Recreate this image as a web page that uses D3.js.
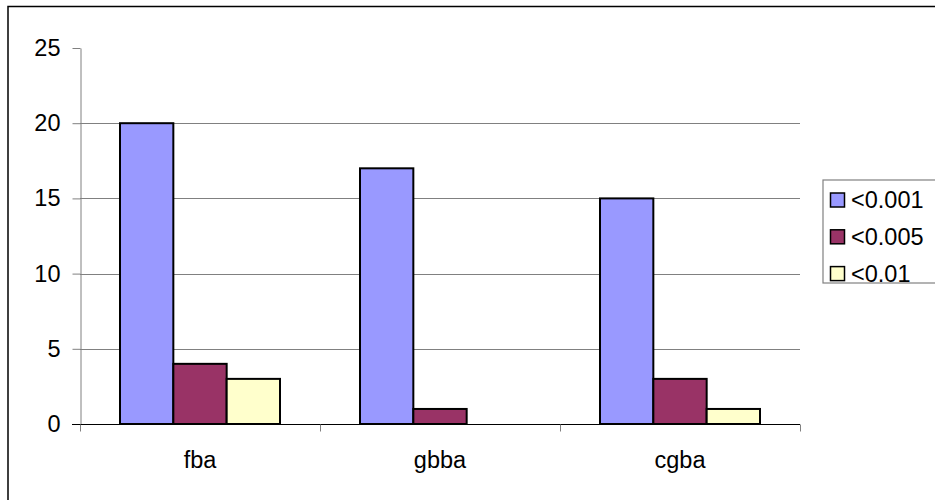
<!DOCTYPE html>
<html><head><meta charset="utf-8">
<script src="https://cdn.jsdelivr.net/npm/d3@7"></script>
<style>body{margin:0;background:#fff;}svg{display:block;font-family:Arial,"Liberation Sans",sans-serif;}</style>
</head><body><svg id="c" width="935" height="500"></svg>
<script>
const categories = ["fba", "gbba", "cgba"];
const seriesNames = ["<0.001", "<0.005", "<0.01"];
const s1 = [20, 17, 15];
const s2 = [4, 1, 3];
const s3 = [3, 0, 1];
const colors = ["#9999FF", "#993366", "#FFFFCC"];
const yTicks = [0, 5, 10, 15, 20, 25];

const FS = 23.5;
const FF = "Arial, 'Liberation Sans', sans-serif";
const svg = d3.select("#c");
const series = [s1, s2, s3];
// outer border
svg.append("rect").attr("x", 8).attr("y", 6.5).attr("width", 940).attr("height", 510)
  .attr("fill", "none").attr("stroke", "#000").attr("stroke-width", 1.5);

const x0 = d3.scaleBand().domain(categories).range([80, 800]).paddingInner(0).paddingOuter(0);
const y = d3.scaleLinear().domain([0, 25]).range([424, 48]);
const x1 = d3.scaleBand().domain(d3.range(3)).range([40, 200]);

// gridlines
svg.append("g").selectAll("line").data(yTicks.filter(t => t > 0 && t < 25)).join("line")
  .attr("x1", 80).attr("x2", 800).attr("y1", d => Math.round(y(d)) + 0.5).attr("y2", d => Math.round(y(d)) + 0.5)
  .attr("stroke", "#808080").attr("stroke-width", 1.2);

// y axis
const yAxis = svg.append("g").attr("transform", "translate(80.5,0)")
  .call(d3.axisLeft(y).tickValues(yTicks).tickSize(8).tickPadding(12).tickSizeOuter(0));
yAxis.attr("font-size", FS).attr("font-family", FF);
yAxis.select(".domain").attr("stroke", "#808080");
yAxis.selectAll(".tick line").attr("stroke", "#808080");
yAxis.selectAll("text").attr("fill", "#000");

// bars
const g = svg.append("g");
categories.forEach((c, ci) => {
  series.forEach((s, si) => {
    if (s[ci] > 0) {
      g.append("rect")
        .attr("x", x0(c) + x1(si)).attr("y", y(s[ci]))
        .attr("width", x1.bandwidth()).attr("height", y(0) - y(s[ci]))
        .attr("fill", colors[si]).attr("stroke", "#000").attr("stroke-width", 2);
    }
  });
});

// x axis
const xAxis = svg.append("g").attr("transform", "translate(0,424.5)");
xAxis.append("line").attr("x1", 72).attr("x2", 800).attr("y1", 0).attr("y2", 0).attr("stroke", "#000").attr("stroke-width", 1.2);
const xTickPos = d3.range(categories.length + 1).map(i => 80 + i * x0.step());
xAxis.selectAll(".xt").data(xTickPos).join("line").attr("class", "xt")
  .attr("x1", d => d + 0.5).attr("x2", d => d + 0.5).attr("y1", 0).attr("y2", 7)
  .attr("stroke", "#808080");
xAxis.selectAll("text").data(categories).join("text")
  .attr("x", d => x0(d) + x0.bandwidth() / 2).attr("y", 43.5)
  .attr("text-anchor", "middle").attr("font-size", FS).attr("font-family", FF).text(d => d);

// legend
const lg = svg.append("g");
lg.append("rect").attr("x", 823).attr("y", 180).attr("width", 130).attr("height", 103)
  .attr("fill", "#fff").attr("stroke", "#808080").attr("stroke-width", 1.2);
seriesNames.forEach((n, i) => {
  const cy = 200 + i * 36.8;
  lg.append("rect").attr("x", 830.5).attr("y", cy - 7).attr("width", 14).attr("height", 14)
    .attr("fill", colors[i]).attr("stroke", "#000").attr("stroke-width", 1.5);
  lg.append("text").attr("x", 851).attr("y", cy + 8).attr("font-size", FS).attr("font-family", FF).text(n);
});
</script></body></html>
